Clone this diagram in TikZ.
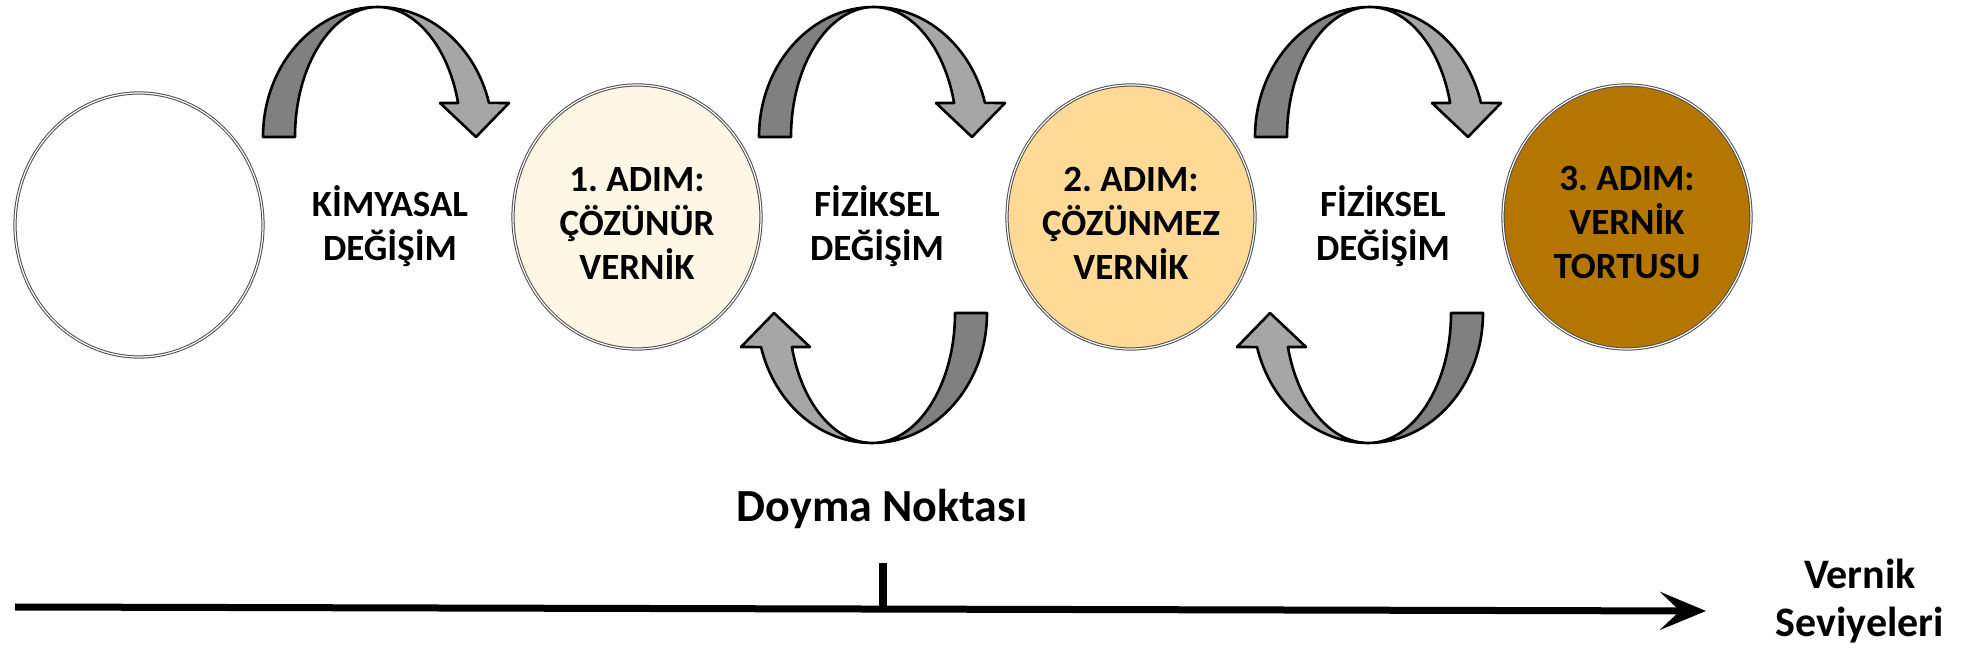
\documentclass[tikz,border=0pt]{standalone}
\usepackage{fontspec}
\setmainfont{Carlito}
\usetikzlibrary{positioning}
\usetikzlibrary{arrows.meta}
\usetikzlibrary{shapes.geometric}
\definecolor{banddark}{RGB}{128,128,128}
\definecolor{bandlight}{RGB}{166,166,166}
\definecolor{stepone}{RGB}{255,246,230}
\definecolor{steptwo}{RGB}{255,218,150}
\definecolor{stepthree}{RGB}{181,118,0}
\newcommand{\lblfont}{\fontsize{18.5}{22}\selectfont\bfseries\frenchspacing}

\begin{document}
\begin{tikzpicture}[x=0.5pt, y=-0.5pt,
    stage/.style={ellipse, draw=black!70, double=white, double distance=0.6pt, line width=0.5pt, minimum width=124pt, minimum height=132pt, inner sep=0pt},
    change/.style={align=center, font=\lblfont},
    back/.style={draw, line width=1.3pt, line join=round, fill=banddark},
    front/.style={draw, line width=1.3pt, line join=round, fill=bandlight}]

    \useasboundingbox (0,0) rectangle (1964,656);

    % Stages
    \node[stage, fill=white] (s0) at (139,225) {};
    \node[stage, fill=stepone] (s1) at (637,217) {};
    \node[stage, fill=steptwo] (s2) at (1131,217) {};
    \node[stage, fill=stepthree] (s3) at (1627,217) {};
    \node[change] (s1txt) at ([yshift=-3pt]s1.center) {1. ADIM:\\ÇÖZÜNÜR\\VERNİK};
    \node[change] (s2txt) at ([yshift=-3pt]s2.center) {2. ADIM:\\ÇÖZÜNMEZ\\VERNİK};
    \node[change] (s3txt) at ([yshift=-3pt]s3.center) {3. ADIM:\\VERNİK\\TORTUSU};

    % Changes between stages
    \node[change] (chem) at (390,226) {KİMYASAL\\DEĞİŞİM};
    \node[change] (phys1) at (877,226) {FİZİKSEL\\DEĞİŞİM};
    \node[change] (phys2) at (1383,226) {FİZİKSEL\\DEĞİŞİM};

    % Curved arrows (top ones forward, bottom ones back)
    \foreach \cx/\cy/\rot in {378/137/0, 874/137/0, 1370/137/0, 872/313/180, 1368/313/180} {
        \begin{scope}[shift={(\cx,\cy)}, rotate=\rot]
            \draw[back] (-115,0) arc[start angle=180, end angle=270, x radius=115, y radius=130]
                arc[start angle=270, end angle=180, x radius=83, y radius=130] -- cycle;
            \draw[front] (0,-130) arc[start angle=270, end angle=344.8, x radius=115, y radius=130]
                -- (131,-34) -- (98,0) -- (62,-34) -- (80.1,-34)
                arc[start angle=344.8, end angle=270, x radius=83, y radius=130] -- cycle;
        \end{scope}
    }

    % Axis
    \coordinate (axisstart) at (15,607);
    \coordinate (axisend) at (1706,611);
    \coordinate (sat) at (883,608);
    \draw[line width=3.5pt, -{Stealth[length=23pt, width=19pt, inset=10pt]}] (axisstart) -- (axisend);
    \draw[line width=4pt] (sat) -- ++(0,-45);
    \node[change, font=\fontsize{23}{27}\selectfont\bfseries, anchor=base] (satlbl) at (882,522) {Doyma Noktası};
    \node[change, font=\fontsize{21}{24}\selectfont\bfseries] (levels) at (1860,601) {Vernik\\Seviyeleri};
\end{tikzpicture}
\end{document}
